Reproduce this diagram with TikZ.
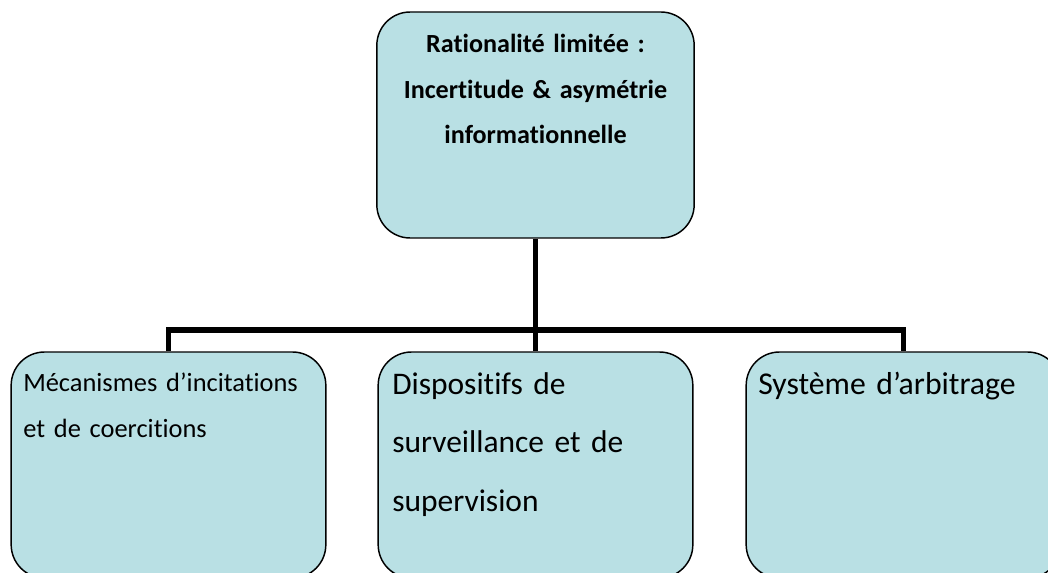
\documentclass[tikz,border=0pt]{standalone}
\usepackage{fontspec}
\setmainfont{Carlito}[Ligatures=NoCommon]
\definecolor{boxfill}{RGB}{185,224,228}
\tikzset{
  topbox/.style={draw=black, line width=1.1pt, fill=boxfill, rounded corners=25pt,
    minimum width=238pt, minimum height=169.5pt, inner sep=0pt},
  subbox/.style={topbox, minimum width=236pt},
  subtext/.style={anchor=base west, inner sep=0pt, align=left, text width=225pt},
  link/.style={line width=4.2pt}
}
\begin{document}
\begin{tikzpicture}[x=0.75pt, y=-0.75pt]
\useasboundingbox (0,0) rectangle (1048,573);
\clip (0,0) rectangle (1048,573);

% Boxes
\node[topbox] (rat) at (535.5,125) {};
\node[subbox] (mech) at (168.5,465) {};
\node[subbox] (disp) at (535.5,465) {};
\node[subbox] (arb) at (903.5,465) {};

% Connectors
\coordinate (bar) at (535.5,330);
\draw[link] (rat.south) -- (disp.north);
\draw[link] (mech.north) |- (bar) -| (arb.north);

% Texts
\node[anchor=base, inner sep=0pt, align=center, text width=230pt,
  font=\fontsize{19.6}{34}\selectfont\bfseries] (ratlabel) at (535.5,53)
  {Rationalité limitée :\\Incertitude \& asymétrie\\informationnelle};
\node[subtext, font=\fontsize{19.8}{34.5}\selectfont] (mechlabel) at (23,391)
  {Mécanismes d’incitations\\et de coercitions};
\node[subtext, font=\fontsize{23.6}{44}\selectfont] (displabel) at (392,394)
  {Dispositifs de\\surveillance et de\\supervision};
\node[subtext, font=\fontsize{23.8}{44}\selectfont] (arblabel) at (758,394)
  {Système d’arbitrage};

\end{tikzpicture}
\end{document}
